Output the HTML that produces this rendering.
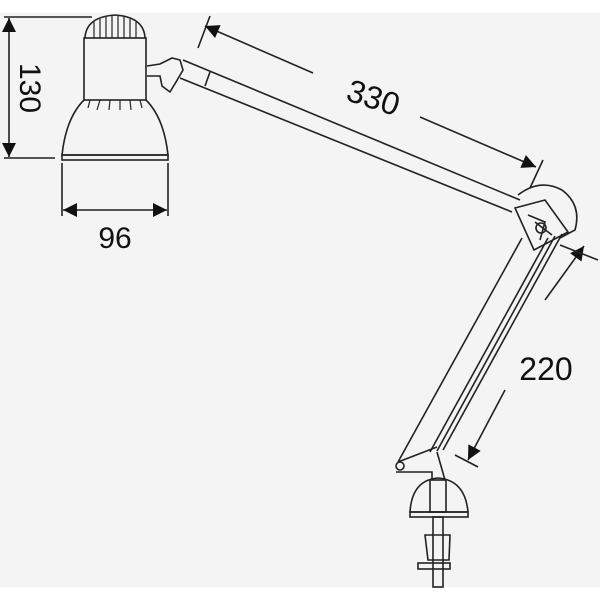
<!DOCTYPE html>
<html><head><style>
html,body{margin:0;padding:0;background:#fff;}
svg{display:block;}
text{font-family:"Liberation Sans","DejaVu Sans",sans-serif;fill:#111;}
</style></head><body>
<svg width="600" height="600" viewBox="0 0 600 600" xmlns="http://www.w3.org/2000/svg">
<defs>
<marker id="b" viewBox="0 0 10 10" refX="10" refY="5" markerWidth="16" markerHeight="14" orient="auto-start-reverse" markerUnits="userSpaceOnUse">
<path d="M0,0 L10,5 L0,10 z" fill="#111"/></marker>
</defs>
<rect x="0" y="13" width="600" height="574" fill="#f4f4f4"/>
<g stroke="#222" stroke-width="1.6" fill="none">
<line x1="4" y1="17" x2="92" y2="17"/>
<line x1="4" y1="158" x2="55" y2="158"/>
<line x1="9" y1="18" x2="9" y2="157" marker-start="url(#b)" marker-end="url(#b)"/>
<line x1="62" y1="163" x2="62" y2="216"/>
<line x1="168" y1="163" x2="168" y2="216"/>
<line x1="63" y1="210" x2="167" y2="210" marker-start="url(#b)" marker-end="url(#b)"/>
<path d="M85,38 Q86,17 115,15 Q144,17 145,38"/>
<g stroke-width="1.2">
<line x1="94" y1="22" x2="94" y2="38"/><line x1="100" y1="19" x2="100" y2="38"/><line x1="106" y1="17" x2="106" y2="38"/>
<line x1="112" y1="16" x2="112" y2="38"/><line x1="118" y1="16" x2="118" y2="38"/><line x1="124" y1="17" x2="124" y2="38"/>
<line x1="130" y1="19" x2="130" y2="38"/><line x1="136" y1="22" x2="136" y2="38"/>
<line x1="90" y1="100" x2="88" y2="108"/><line x1="100" y1="100" x2="97" y2="110"/><line x1="110" y1="100" x2="109" y2="110"/>
<line x1="120" y1="100" x2="120" y2="110"/><line x1="130" y1="100" x2="131" y2="110"/><line x1="140" y1="100" x2="142" y2="108"/>
</g>
<rect x="84" y="38" width="62" height="62"/>
<path d="M84,100 Q66,118 62,155 L168,155 Q164,118 146,100"/>
<rect x="62" y="155" width="106" height="5"/>
<path d="M147,66 L160,64 L172,58 L180,60 L183,70 L176,82 L170,92 L162,86 L160,76 L147,76"/>
<line x1="183" y1="60" x2="520" y2="200"/>
<line x1="180" y1="78" x2="512" y2="212"/>
<line x1="210" y1="72" x2="205" y2="86"/>
<line x1="198" y1="48" x2="210" y2="16"/>
<line x1="530" y1="188" x2="543" y2="160"/>
<line x1="205" y1="26" x2="313" y2="73" marker-start="url(#b)"/>
<line x1="420" y1="117" x2="536" y2="167" marker-end="url(#b)"/>
<path d="M518,195 Q540,178 562,190 Q582,205 575,230 L560,238"/>
<path d="M515,208 L545,200 L568,232 L534,250 Z"/>
<path d="M528,215 L545,222 L540,240 M535,222 L552,235"/>
<circle cx="541" cy="228" r="5"/>
<line x1="522" y1="238" x2="398" y2="462"/>
<line x1="548" y1="238" x2="430" y2="452"/>
<line x1="562" y1="234" x2="443" y2="450"/>
<line x1="555" y1="236" x2="437" y2="451"/>
<line x1="398" y1="462" x2="437" y2="447"/>
<line x1="545" y1="300" x2="584" y2="246" marker-end="url(#b)"/>
<line x1="505" y1="390" x2="468" y2="460" marker-end="url(#b)"/>
<line x1="560" y1="245" x2="598" y2="260"/>
<line x1="455" y1="455" x2="478" y2="467"/>
<circle cx="400" cy="466" r="4"/>
<path d="M396,472 L432,472 L432,480"/>
<line x1="437" y1="452" x2="445" y2="480"/>
<path d="M410,512 Q412,480 438,478 Q465,480 468,512 Z"/>
<rect x="410" y="512" width="58" height="5"/>
<rect x="430" y="480" width="16" height="32"/>
<rect x="433" y="517" width="10" height="70"/>
<path d="M425,535 L450,535 L449,560 L428,560 Z"/>
<rect x="418" y="563" width="32" height="6"/>
</g>
<text x="0" y="0" font-size="30" transform="translate(20,88) rotate(90)" text-anchor="middle">130</text>
<text x="115" y="248" font-size="30" text-anchor="middle">96</text>
<text x="0" y="0" font-size="32" transform="translate(370,108) rotate(18)" text-anchor="middle">330</text>
<text x="546" y="380" font-size="32" text-anchor="middle">220</text>
</svg>
</body></html>
